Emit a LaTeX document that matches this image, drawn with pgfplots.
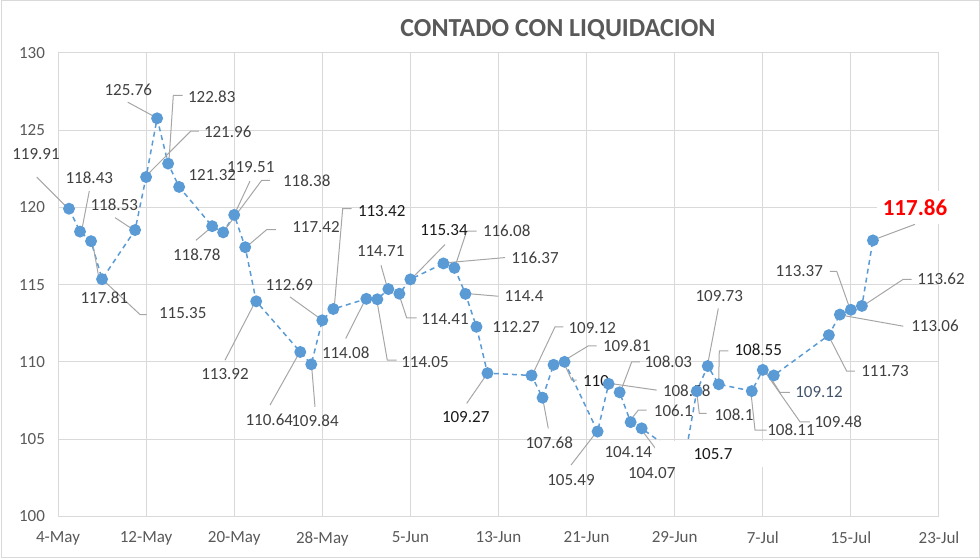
\documentclass[border=0pt]{standalone}
\usepackage{pgfplots}
\pgfplotsset{compat=1.18}
\usepackage{fontspec}
\setmainfont{Carlito}
\definecolor{ser}{HTML}{5B9BD5}
\definecolor{txt}{HTML}{595959}
\definecolor{lbl}{HTML}{404040}
\definecolor{dk}{HTML}{1A1A1A}
\definecolor{bg}{HTML}{44546A}
\definecolor{grd}{HTML}{D9D9D9}
\definecolor{ldr}{HTML}{A6A6A6}
% pixel -> axis helpers (x px, y px measured from top)
\newcommand{\lb}[4][lbl]{\node[lab,text=#1] at (axis cs:{(#2-58)/11.0125},{100+(516.4-#3)/15.47}) {#4};}
\newcommand{\ld}[4]{\draw[leader] (axis cs:{(#1-58)/11.0125},{100+(516.4-#2)/15.47}) -- (axis cs:{(#3-58)/11.0125},{100+(516.4-#4)/15.47});}
\newcommand{\ldd}[6]{\draw[leader] (axis cs:{(#1-58)/11.0125},{100+(516.4-#2)/15.47}) -- (axis cs:{(#3-58)/11.0125},{100+(516.4-#4)/15.47}) -- (axis cs:{(#5-58)/11.0125},{100+(516.4-#6)/15.47});}
\begin{document}
\begin{tikzpicture}[
  lab/.style={font=\fontsize{8.5}{10}\selectfont, inner sep=0pt},
  leader/.style={draw=ldr, line width=0.5pt}]
\path[use as bounding box] (0,0) rectangle (490pt,279pt);
\begin{axis}[
  at={(29pt,20.8pt)}, anchor=south west, scale only axis,
  width=440.5pt, height=231.8pt,
  xmin=0, xmax=80, ymin=100, ymax=130,
  xtick={0,8,...,80},
  xticklabels={4-May,12-May,20-May,28-May,5-Jun,13-Jun,21-Jun,29-Jun,7-Jul,15-Jul,23-Jul},
  ytick={100,105,...,130},
  grid=major, major grid style={draw=grd, line width=0.5pt},
  axis line style={draw=none}, major tick length=0pt,
  tick label style={font=\fontsize{8.5}{10}\selectfont, text=txt},
  /pgf/number format/assume math mode=true,
  yticklabel style={xshift=-3pt},
  xticklabel style={yshift=-4pt},
  extra y ticks={100}, extra y tick labels={},
  extra y tick style={grid style={draw=black!25, line width=1pt}},
  clip=false,
]
\addplot[ser, line width=0.75pt, dash pattern=on 2.5pt off 2pt,
  mark=*, mark size=2.6pt, mark options={solid, fill=ser, draw=ser}] coordinates {
(1,119.91) (2,118.43) (3,117.81) (4,115.35) (7,118.53) (8,121.96) (9,125.76)
(10,122.83) (11,121.32) (14,118.78) (15,118.38) (16,119.51) (17,117.42) (18,113.92)
(22,110.64) (23,109.84) (24,112.69) (25,113.42) (28,114.08) (29,114.05) (30,114.71)
(31,114.41) (32,115.34) (35,116.37) (36,116.08) (37,114.4) (38,112.27) (39,109.27)
(43,109.12) (44,107.68) (45,109.81) (46,110) (49,105.49) (50,108.58) (51,108.03)
(52,106.1) (53,105.7) (56,104.14) (57,104.07) (58,108.1) (59,109.73) (60,108.55)
(63,108.11) (64,109.48) (65,109.12) (70,111.73) (71,113.06) (72,113.37) (73,113.62)
(74,117.86)
};
% leader lines
\ld{36.7}{176.7}{66.7}{206.7}
\ld{89.3}{190.7}{81.7}{230}
\ld{92.7}{243}{100}{284}
\ldd{146.7}{314.3}{140}{314.3}{103.3}{280}
\ld{115}{217.3}{131.7}{228.3}
\ldd{199}{130.7}{190.7}{130.7}{146.7}{175}
\ld{127.7}{101.7}{154}{116}
\ldd{182.7}{95}{173.3}{95}{169}{160}
\ld{196}{240}{211.7}{226.7}
\ldd{270}{180}{261.7}{180}{223.3}{231.7}
\ld{250}{180.7}{234.3}{214.3}
\ldd{276}{229.3}{266.7}{229.3}{248.3}{245}
\ld{225}{360}{254.3}{303.3}
\ld{270}{405}{299.3}{352.7}
\ld{315}{406.7}{311.7}{366.7}
\ld{290}{296.7}{320}{318.3}
\ldd{351.7}{208.3}{342.7}{208.3}{334.3}{306.7}
\ld{345.7}{338.3}{365}{300}
\ldd{396.7}{360}{387.3}{360}{376.7}{299.3}
\ld{381}{265}{387.3}{287.3}
\ldd{416.7}{317.7}{406.7}{317.7}{399.3}{295}
\ld{445}{244.3}{413.3}{276.7}
\ldd{476.7}{230.7}{466.7}{230.7}{456}{263.3}
\ld{505}{257.3}{448.3}{262.3}
\ld{498.3}{296}{466.7}{293.3}
\ld{466.7}{403.3}{486.7}{374.3}
\ldd{563.3}{326.7}{555}{326.7}{533.3}{372.7}
\ld{548.3}{428.3}{542.7}{398.3}
\ld{571}{465}{596.7}{431.7}
\ldd{596.7}{345.7}{588.3}{345.7}{564.7}{360}
\ldd{576.7}{380}{571.7}{380}{565}{365}
\ldd{640}{361.7}{631.7}{361.7}{621.7}{388.3}
\ld{656.7}{390}{610}{383.3}
\ldd{646.7}{410}{638.3}{410}{631}{419.3}
\ldd{641.7}{430}{658}{451.7}{665}{451.7}
\ld{718.3}{308.3}{707.7}{364}
\ldd{706.7}{413.3}{699.3}{413.3}{696.7}{391.7}
\ldd{728.3}{350.7}{719.3}{350.7}{718.7}{383.3}
\ldd{766.7}{430}{755}{430}{751}{392.7}
\ldd{790}{392.3}{780}{392.3}{766.7}{371.7}
\ldd{810}{421.7}{800}{421.7}{765}{371.7}
\ldd{855}{371}{846.7}{371}{830}{338.3}
\ld{903.3}{326}{841.7}{315}
\ldd{830}{271}{836.7}{271}{849.3}{306.7}
\ldd{911.7}{279}{903.3}{279}{865}{304.3}
\ld{915}{224}{875}{239}
% data labels
\lb{36}{154}{119.91}
\lb{89.3}{177.3}{118.43}
\lb{104.3}{297.3}{117.81}
\lb{182.7}{313.3}{115.35}
\lb{114.3}{204.3}{118.53}
\lb{227.7}{131.7}{121.96}
\lb{128.3}{89.3}{125.76}
\lb{211.7}{96}{122.83}
\lb{212.3}{175}{121.32}
\lb{196.7}{254}{118.78}
\lb{306.7}{180}{118.38}
\lb{250.7}{166.7}{119.51}
\lb{316}{227}{117.42}
\lb{225}{374}{113.92}
\lb{269.3}{419.3}{110.64}
\lb{315}{420.7}{109.84}
\lb{289.3}{284.3}{112.69}
\lb[dk]{381.7}{210.7}{113.42}
\lb{345.7}{352.3}{114.08}
\lb{425}{361.7}{114.05}
\lb{380.7}{251}{114.71}
\lb{445}{319.3}{114.41}
\lb[dk]{444}{230}{115.34}
\lb{506.7}{230}{116.08}
\lb{535}{257.3}{116.37}
\lb{524}{295.7}{114.4}
\lb{516}{326.7}{112.27}
\lb[dk]{465.7}{417.3}{109.27}
\lb{592.3}{328.3}{109.12}
\lb{549.3}{442.7}{107.68}
\lb{571}{480}{105.49}
\lb{626.7}{345.7}{109.81}
\lb[dk]{596}{381}{110}
\lb{668.3}{361.7}{108.03}
\lb{686.7}{390.7}{108.58}
\lb{673.3}{411}{106.1}
\lb{628.3}{452.3}{104.14}
\lb{651.7}{472.7}{104.07}
\lb{719.3}{295.7}{109.73}
\lb{734}{414.3}{108.1}
\lb[dk]{758.3}{350}{108.55}
\lb{791}{430}{108.11}
\lb[bg]{819}{392.3}{109.12}
\lb{838.3}{421.7}{109.48}
\lb{885}{371}{111.73}
\lb{935}{326}{113.06}
\lb{799.3}{271}{113.37}
\lb{941}{279}{113.62}
\coordinate (boxA) at (axis cs:{(713-58)/11.0125},{100+(516.4-454)/15.47});
\coordinate (boxB) at (axis cs:{(915-58)/11.0125},{100+(516.4-207)/15.47});
\end{axis}
\node[lab, text=dk, fill=white, minimum width=57.5pt, minimum height=13pt] at (boxA) {105.7};
\node[lab, text=red, fill=white, font=\fontsize{11.5}{13}\selectfont\bfseries,
  minimum width=37.5pt, minimum height=16.5pt] at (boxB) {117.86};
\node[font=\fontsize{13}{15}\selectfont\bfseries, text=txt] at (279pt,264pt) {CONTADO CON LIQUIDACION};
\draw[grd, line width=0.5pt] (0.5pt,0.5pt) rectangle (489.5pt,278.5pt);
\end{tikzpicture}
\end{document}
